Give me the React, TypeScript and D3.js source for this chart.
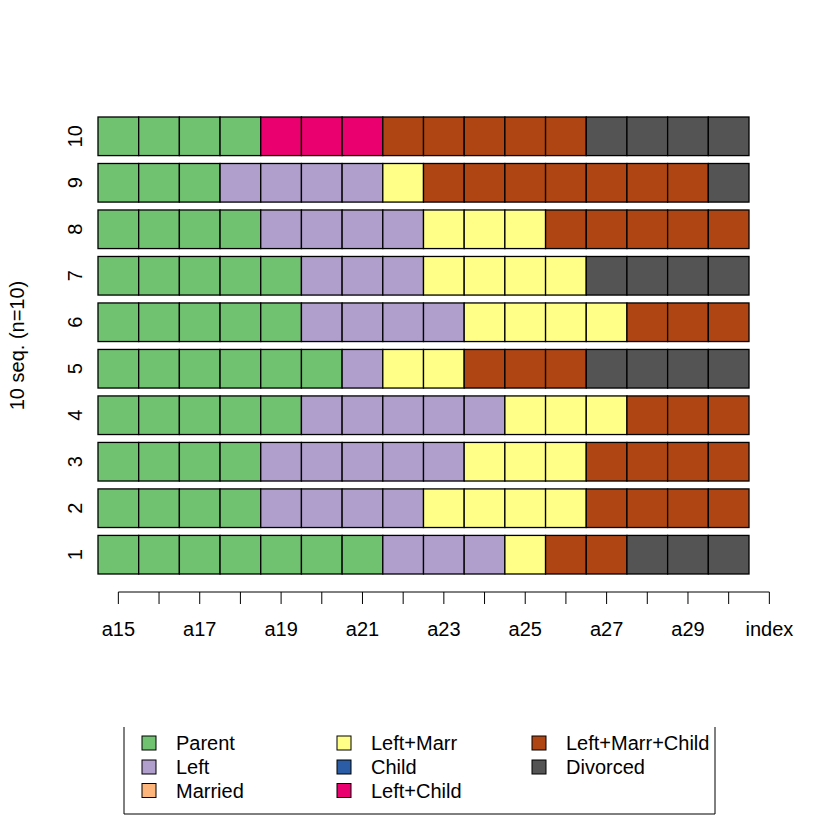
import React from "react";
import * as d3 from "d3";

const states = ["Parent", "Left", "Married", "Left+Marr", "Child", "Left+Child", "Left+Marr+Child", "Divorced"];
const stateColors = ["#70C170", "#B09ECC", "#FDB57C", "#FFFF88", "#2B5CA6", "#EA006E", "#AE4513", "#545454"];
const timeLabels = ["a15","a16","a17","a18","a19","a20","a21","a22","a23","a24","a25","a26","a27","a28","a29","a30"];
const axisLabels = [...timeLabels, "index"];
const seqIds = ["1","2","3","4","5","6","7","8","9","10"];

// each sequence as [state, duration] spells
const seqSpells: [string, number][][] = [
  [["Parent",7],["Left",3],["Left+Marr",1],["Left+Marr+Child",2],["Divorced",3]],
  [["Parent",4],["Left",4],["Left+Marr",4],["Left+Marr+Child",4]],
  [["Parent",4],["Left",5],["Left+Marr",3],["Left+Marr+Child",4]],
  [["Parent",5],["Left",5],["Left+Marr",3],["Left+Marr+Child",3]],
  [["Parent",6],["Left",1],["Left+Marr",2],["Left+Marr+Child",3],["Divorced",4]],
  [["Parent",5],["Left",4],["Left+Marr",4],["Left+Marr+Child",3]],
  [["Parent",5],["Left",3],["Left+Marr",4],["Divorced",4]],
  [["Parent",4],["Left",4],["Left+Marr",3],["Left+Marr+Child",5]],
  [["Parent",3],["Left",4],["Left+Marr",1],["Left+Marr+Child",7],["Divorced",1]],
  [["Parent",4],["Left+Child",3],["Left+Marr+Child",5],["Divorced",4]],
];

export default function App() {
  const W = 840, H = 840;
  const x0 = 98, x1 = 749;
  const x = d3.scaleBand<string>().domain(timeLabels).range([x0, x1]).padding(0);
  const step = x.bandwidth();
  const xt = d3.scaleLinear().domain([0, 16]).range([x0 + step / 2, x0 + step / 2 + 16 * step]);
  const y = d3.scaleBand<string>().domain([...seqIds].reverse()).range([117, 574]).paddingInner(0.17).paddingOuter(0);
  const color = d3.scaleOrdinal<string, string>().domain(states).range(stateColors);

  const cells: { id: string; t: string; s: string }[] = [];
  seqIds.forEach((id, i) => {
    let k = 0;
    seqSpells[i].forEach(([s, d]) => {
      for (let j = 0; j < d; j++) { cells.push({ id, t: timeLabels[k], s }); k++; }
    });
  });

  const axisY = 592;
  const font = "Liberation Sans, Arial, Helvetica, sans-serif";
  const fs = 20;
  const legendCols = [142, 337, 532];
  const legendRows = [743, 767, 790.5];

  return (
    <svg width={W} height={H} style={{ position: "absolute", left: 0, top: 0, background: "#fff" }} fontFamily={font}>
      {cells.map((c, i) => (
        <rect key={i} x={x(c.t)} y={y(c.id)} width={step} height={y.bandwidth()}
          fill={color(c.s)} stroke="#000" strokeWidth={1.3} />
      ))}
      {seqIds.map((id) => (
        <text key={id} transform={`translate(82,${(y(id) as number) + y.bandwidth() / 2}) rotate(-90)`}
          textAnchor="middle" fontSize={fs}>{id}</text>
      ))}
      <text transform={`translate(24,${(117 + 574) / 2}) rotate(-90)`} textAnchor="middle" fontSize={fs}>10 seq. (n=10)</text>
      <line x1={xt(0)} x2={xt(16)} y1={axisY} y2={axisY} stroke="#000" strokeWidth={1} />
      {axisLabels.map((lab, k) => (
        <g key={lab}>
          <line x1={xt(k)} x2={xt(k)} y1={axisY} y2={axisY + 12} stroke="#000" strokeWidth={1} />
          {k % 2 === 0 && (
            <text x={xt(k)} y={636} textAnchor="middle" fontSize={fs}>{lab}</text>
          )}
        </g>
      ))}
      <polyline points={`124,727 124,814 715,814 715,727`} fill="none" stroke="#000" strokeWidth={1} />
      {states.map((s, i) => {
        const col = Math.floor(i / 3), row = i % 3;
        const cy = legendRows[row];
        return (
          <g key={s}>
            <rect x={legendCols[col]} y={cy - 7} width={14} height={14} fill={color(s)} stroke="#000" strokeWidth={1} />
            <text x={legendCols[col] + 34} y={cy + 7} fontSize={fs}>{s}</text>
          </g>
        );
      })}
    </svg>
  );
}
